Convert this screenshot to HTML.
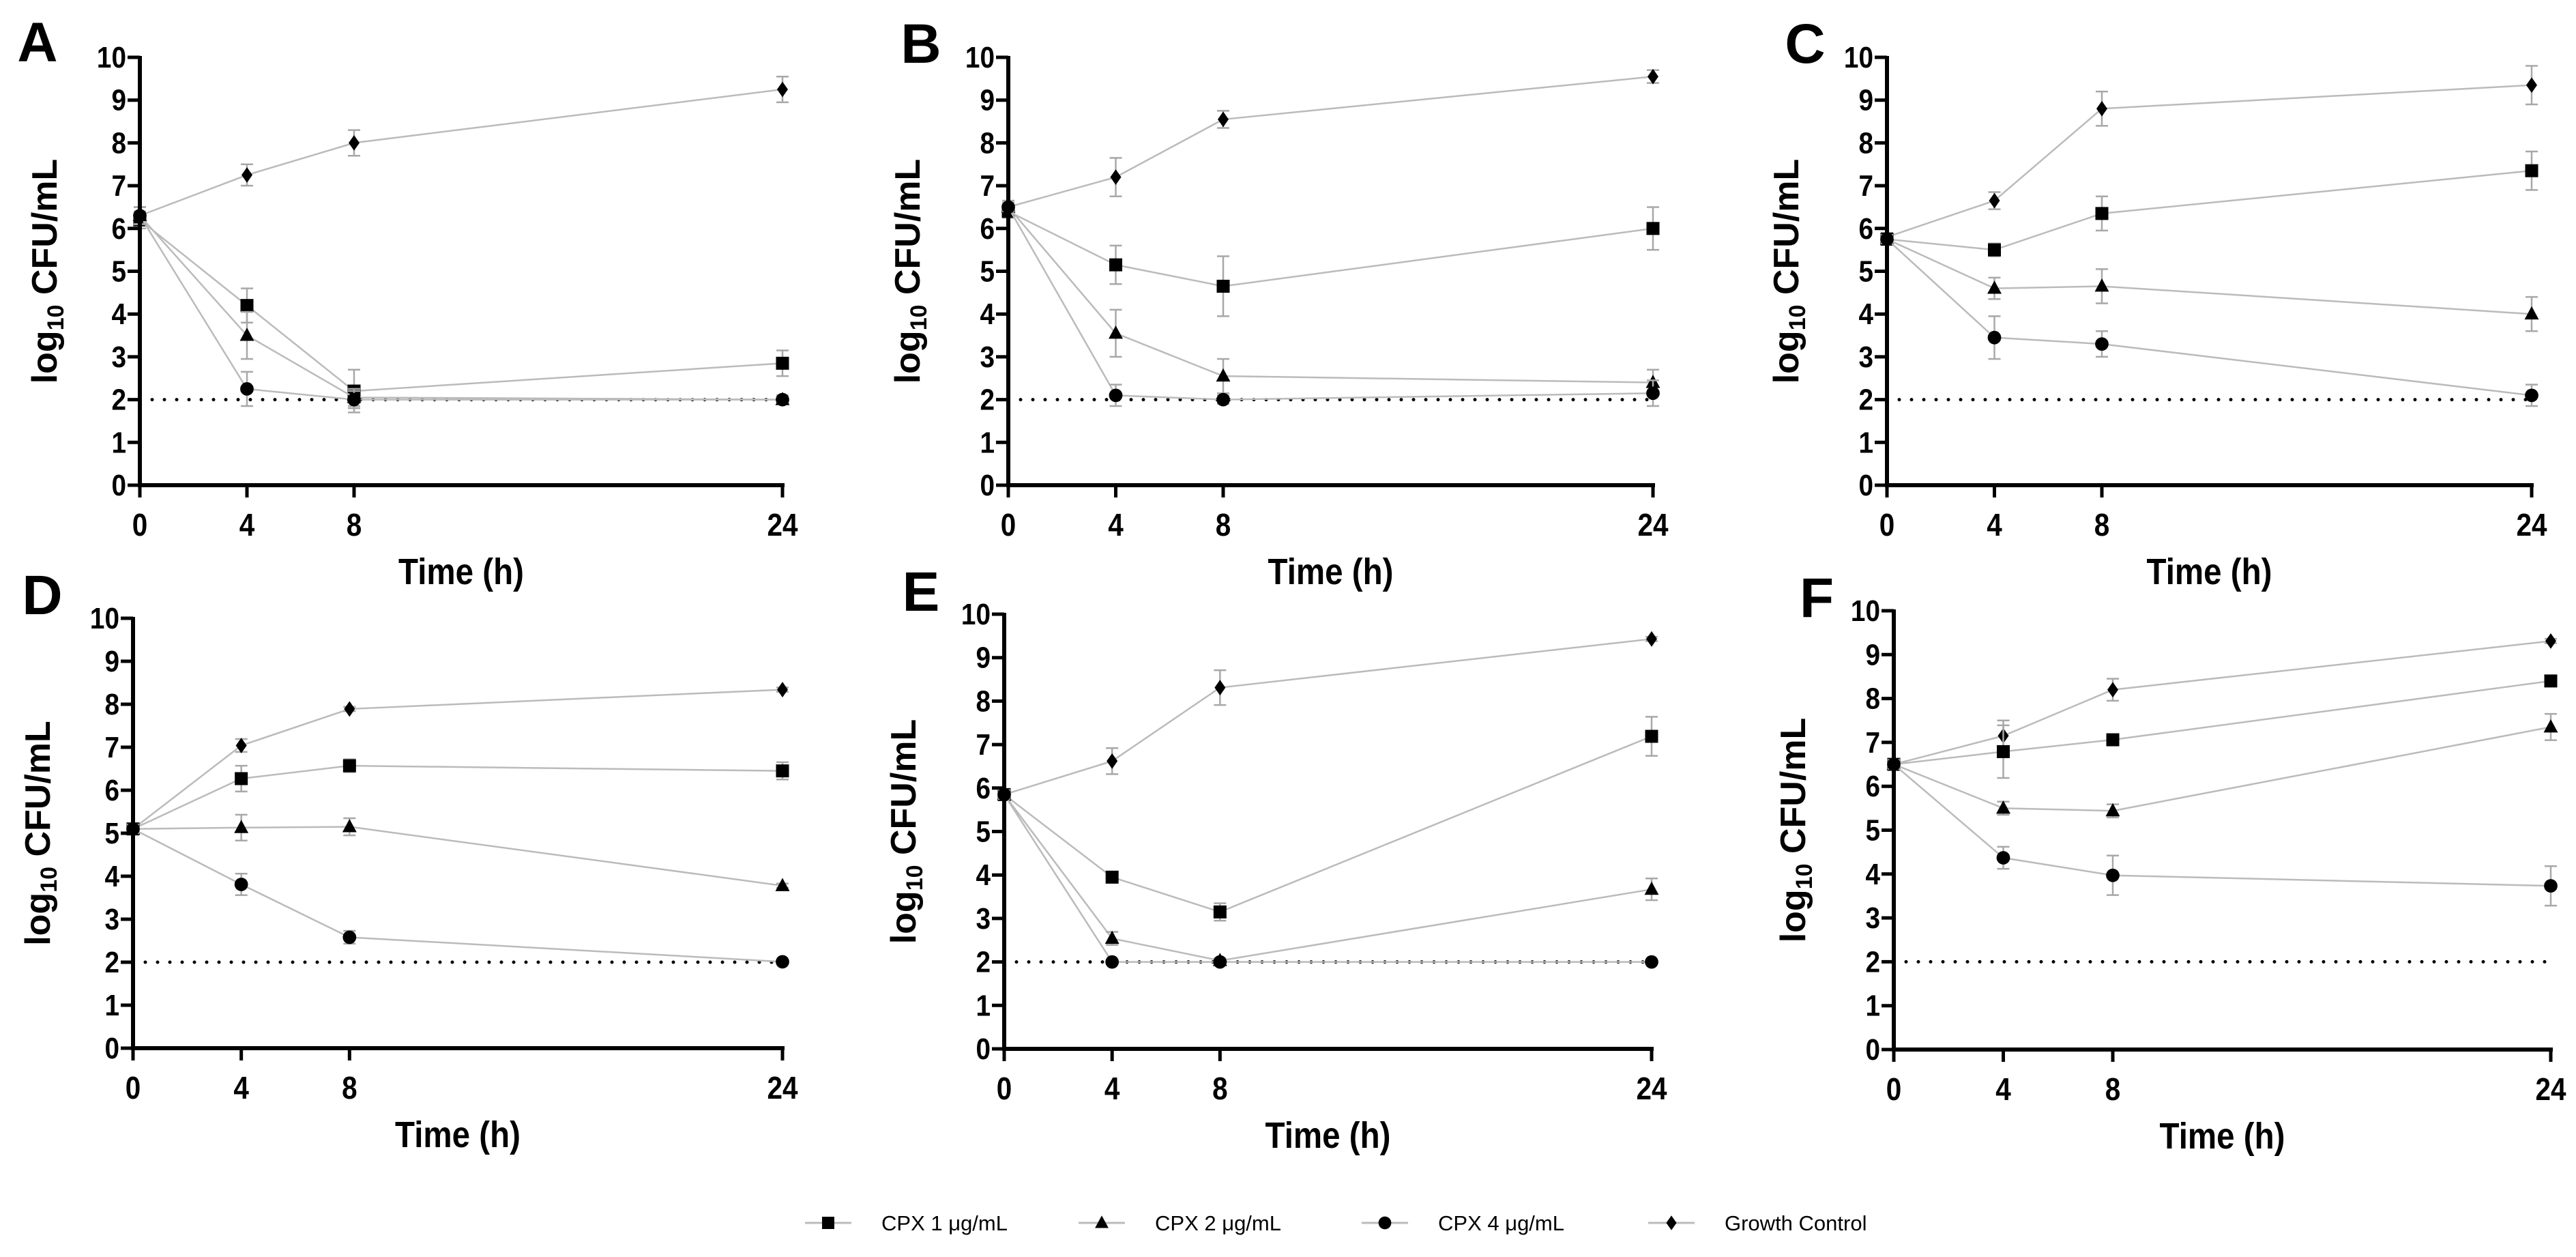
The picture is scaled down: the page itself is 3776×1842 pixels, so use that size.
<!DOCTYPE html>
<html><head><meta charset="utf-8"><style>
html,body{margin:0;padding:0;background:#fff}
svg{display:block}
text{font-family:"Liberation Sans",Arial,sans-serif}
</style></head>
<body>
<svg id="fig" width="3776" height="1842" viewBox="0 0 3776 1842" xmlns="http://www.w3.org/2000/svg"></svg>
<script>
const times = [0, 4, 8, 24];
const yTicks = [0,1,2,3,4,5,6,7,8,9,10];
const xTickLabels = ["0","4","8","24"];
const seriesNames = ["CPX 1 μg/mL","CPX 2 μg/mL","CPX 4 μg/mL","Growth Control"];
const seriesMarkers = ["square","triangle","circle","diamond"];
const detectionLimit = 2;

const A_cpx1 = [6.2,4.2,2.2,2.85],  A_cpx1_err=[0.2,0.4,0.5,0.3];
const A_cpx2 = [6.3,3.5,2.05,2.0],  A_cpx2_err=[0.2,0.55,0.2,0.1];
const A_cpx4 = [6.3,2.25,2.0,2.0],  A_cpx4_err=[0.2,0.4,0.2,0.05];
const A_gc   = [6.3,7.25,8.0,9.25], A_gc_err=[0.2,0.25,0.3,0.3];

const B_cpx1 = [6.4,5.15,4.65,6.0], B_cpx1_err=[0.15,0.45,0.7,0.5];
const B_cpx2 = [6.5,3.55,2.55,2.4], B_cpx2_err=[0.1,0.55,0.4,0.3];
const B_cpx4 = [6.5,2.1,2.0,2.15],  B_cpx4_err=[0.1,0.25,0.1,0.3];
const B_gc   = [6.5,7.2,8.55,9.55], B_gc_err=[0.15,0.45,0.2,0.15];

const C_cpx1 = [5.75,5.5,6.35,7.35], C_cpx1_err=[0.1,0.15,0.4,0.45];
const C_cpx2 = [5.75,4.6,4.65,4.0],  C_cpx2_err=[0.1,0.25,0.4,0.4];
const C_cpx4 = [5.75,3.45,3.3,2.1],  C_cpx4_err=[0.1,0.5,0.3,0.25];
const C_gc   = [5.8,6.65,8.8,9.35],  C_gc_err=[0.1,0.2,0.4,0.45];

const D_cpx1 = [5.1,6.27,6.57,6.45], D_cpx1_err=[0.1,0.3,0.15,0.2];
const D_cpx2 = [5.1,5.13,5.15,3.78], D_cpx2_err=[0.1,0.3,0.2,0.05];
const D_cpx4 = [5.1,3.81,2.58,2.01], D_cpx4_err=[0.1,0.25,0.15,0.05];
const D_gc   = [5.1,7.04,7.89,8.34], D_gc_err=[0.1,0.15,0.05,0.05];

const E_cpx1 = [5.85,3.95,3.15,7.19], E_cpx1_err=[0.1,0.1,0.2,0.45];
const E_cpx2 = [5.85,2.54,2.03,3.67], E_cpx2_err=[0.1,0.15,0.05,0.25];
const E_cpx4 = [5.85,2.0,2.0,2.0],    E_cpx4_err=[0.1,0.05,0.05,0.05];
const E_gc   = [5.85,6.62,8.31,9.43], E_gc_err=[0.1,0.3,0.4,0.05];

const F_cpx1 = [6.5,6.79,7.06,8.4],  F_cpx1_err=[0.1,0.6,0.1,0.1];
const F_cpx2 = [6.5,5.5,5.44,7.35],  F_cpx2_err=[0.1,0.15,0.15,0.3];
const F_cpx4 = [6.5,4.37,3.97,3.73], F_cpx4_err=[0.1,0.25,0.45,0.45];
const F_gc   = [6.5,7.15,8.2,9.31],  F_gc_err=[0.1,0.35,0.25,0.05];

const panelLetters = ["A","B","C","D","E","F"];
const panelData = [
 [[A_cpx1,A_cpx1_err],[A_cpx2,A_cpx2_err],[A_cpx4,A_cpx4_err],[A_gc,A_gc_err]],
 [[B_cpx1,B_cpx1_err],[B_cpx2,B_cpx2_err],[B_cpx4,B_cpx4_err],[B_gc,B_gc_err]],
 [[C_cpx1,C_cpx1_err],[C_cpx2,C_cpx2_err],[C_cpx4,C_cpx4_err],[C_gc,C_gc_err]],
 [[D_cpx1,D_cpx1_err],[D_cpx2,D_cpx2_err],[D_cpx4,D_cpx4_err],[D_gc,D_gc_err]],
 [[E_cpx1,E_cpx1_err],[E_cpx2,E_cpx2_err],[E_cpx4,E_cpx4_err],[E_gc,E_gc_err]],
 [[F_cpx1,F_cpx1_err],[F_cpx2,F_cpx2_err],[F_cpx4,F_cpx4_err],[F_gc,F_gc_err]]
];

const layout = [
 {ax:205, x24:1147, y10:84, y0:711, lx:55, ly:90},
 {ax:1478,x24:2423, y10:84, y0:711, lx:1350,ly:92},
 {ax:2766,x24:3711, y10:84, y0:711, lx:2646,ly:92},
 {ax:195, x24:1147, y10:906,y0:1536,lx:62, ly:900},
 {ax:1472,x24:2421, y10:900,y0:1537,lx:1350,ly:895},
 {ax:2776,x24:3739, y10:895,y0:1538,lx:2663,ly:904}
];

const NS="http://www.w3.org/2000/svg";
const svg=document.getElementById('fig');
function mk(tag,attrs,parent){const e=document.createElementNS(NS,tag);for(const k in attrs)e.setAttribute(k,attrs[k]);(parent||svg).appendChild(e);return e;}

function marker(g,type,cx,cy,s){
  let e;
  if(type==="square"){e=mk('rect',{x:cx-s/2,y:cy-s/2,width:s,height:s,fill:'#000'},g);}
  else if(type==="triangle"){e=mk('polygon',{points:`${cx},${cy-s*0.6} ${cx+s*0.55},${cy+s*0.42} ${cx-s*0.55},${cy+s*0.42}`,fill:'#000'},g);}
  else if(type==="circle"){e=mk('circle',{cx:cx,cy:cy,r:s*0.52,fill:'#000'},g);}
  else {e=mk('polygon',{points:`${cx},${cy-s*0.6} ${cx+s*0.42},${cy} ${cx},${cy+s*0.6} ${cx-s*0.42},${cy}`,fill:'#000'},g);}
  return e;
}

panelLetters.forEach((L,pi)=>{
  const P=layout[pi];
  const xs=t=>P.ax+(P.x24-P.ax)*t/24;
  const ys=v=>P.y0-(P.y0-P.y10)*v/10;
  const g=mk('g',{});
  
  
  const lt=mk('text',{x:P.lx,y:P.ly,'font-size':82,'font-weight':'bold','text-anchor':'middle'},g);
  lt.textContent=L;
  
  
  const dl=mk('line',{x1:P.ax+18,x2:P.x24,y1:ys(detectionLimit),y2:ys(detectionLimit),stroke:'#000','stroke-width':5,'stroke-dasharray':'0 18','stroke-linecap':'round'},g);
  
  
  const order=[3,0,1,2];
  order.forEach(si=>{
    const vals=panelData[pi][si][0], errs=panelData[pi][si][1];
    const sg=mk('g',{},g);
    
    
    const pts=times.map((t,i)=>xs(t)+','+ys(vals[i])).join(' ');
    mk('polyline',{points:pts,fill:'none',stroke:'#bbbbbb','stroke-width':2.5},sg);
    times.forEach((t,i)=>{
      const x=xs(t),y1=ys(vals[i]+errs[i]),y2=ys(vals[i]-errs[i]);
      const eb=mk('path',{d:`M${x},${y1}V${y2}M${x-9},${y1}H${x+9}M${x-9},${y2}H${x+9}`,stroke:'#a8a8a8','stroke-width':2.5,fill:'none'},sg);
      
      
    });
    times.forEach((t,i)=>{
      const m=marker(sg,seriesMarkers[si],xs(t),ys(vals[i]),si===3?19:19);
      
      
    });
  });
  const axg=mk('g',{},g);
  
  
  mk('line',{x1:P.ax,x2:P.ax,y1:P.y10-2,y2:P.y0+3,stroke:'#000','stroke-width':6},axg);
  mk('line',{x1:P.ax-3,x2:P.x24+3,y1:P.y0,y2:P.y0,stroke:'#000','stroke-width':6},axg);
  yTicks.forEach(v=>{
    mk('line',{x1:P.ax-18,x2:P.ax,y1:ys(v),y2:ys(v),stroke:'#000','stroke-width':5},axg);
    const t=mk('text',{x:P.ax-20,y:ys(v)+15,'font-size':44,'font-weight':'bold','text-anchor':'end',transform:`translate(${(P.ax-20)*0.12},0) scale(0.88,1)`},axg);
    t.textContent=String(v);
    
    
  });
  times.forEach((tt,i)=>{
    mk('line',{x1:xs(tt),x2:xs(tt),y1:P.y0,y2:P.y0+18,stroke:'#000','stroke-width':5},axg);
    const t=mk('text',{x:xs(tt),y:P.y0+74,'font-size':46,'font-weight':'bold','text-anchor':'middle',transform:`translate(${xs(tt)*0.12},0) scale(0.88,1)`},axg);
    t.textContent=xTickLabels[i];
    
    
  });
  const cx=(P.ax+P.x24)/2;
  const xt=mk('text',{x:cx,y:P.y0+145,'font-size':54,'font-weight':'bold','text-anchor':'middle',transform:`translate(${cx*0.12},0) scale(0.88,1)`},g);
  xt.textContent='Time (h)';
  
  
  const cy=(P.y0+P.y10)/2;
  const yx=P.ax-(pi%3===0?122:130);
  const yt=mk('text',{x:0,y:0,'font-size':52,'font-weight':'bold','text-anchor':'middle',transform:`translate(${yx},${cy}) rotate(-90)`},g);
  yt.innerHTML='log<tspan font-size="34" dy="10">10</tspan><tspan dy="-10"> CFU/mL</tspan>';
  
  
});

const legendX=[1214,1615,2030,2450];
const lg=mk('g',{});


seriesNames.forEach((n,i)=>{
  const eg=mk('g',{},lg);
  
  
  mk('line',{x1:legendX[i]-34,x2:legendX[i]+34,y1:1792,y2:1792,stroke:'#bbbbbb','stroke-width':3},eg);
  marker(eg,seriesMarkers[i],legendX[i],1792,18);
  const t=mk('text',{x:legendX[i]+78,y:1803,'font-size':31},eg);
  t.textContent=n;
});
</script>
</body></html>
